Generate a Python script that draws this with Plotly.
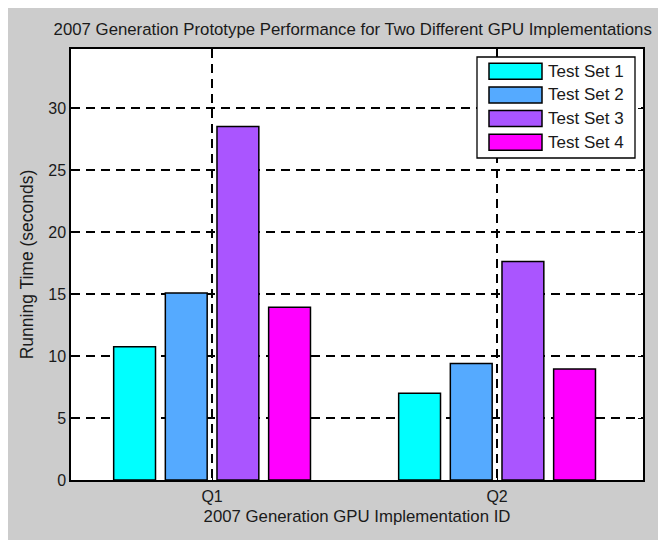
import plotly.graph_objects as go

# ---- data ----
categories = ["Q1", "Q2"]
cat_pos = [1, 2]
series_names = ["Test Set 1", "Test Set 2", "Test Set 3", "Test Set 4"]
set1 = [10.75, 7.0]
set2 = [15.1, 9.4]
set3 = [28.55, 17.65]
set4 = [13.95, 8.97]
series_values = [set1, set2, set3, set4]
colors = ["#00ffff", "#55aaff", "#aa55ff", "#ff00ff"]
y_ticks = [0, 5, 10, 15, 20, 25, 30]

W, H = 666, 540
OFF = 8  # page offset of the figure (body margin)
ML, MT = 63, 41
PW, PH = 572, 431
MR, MB = W - ML - PW, H - MT - PH
FONT = "Liberation Sans, Arial, Helvetica, sans-serif"
TXT = "#1a1a1a"


def px2x(px):
    return (px - OFF - ML) / PW


def py2y(py):
    return (MT + PH - (py - OFF)) / PH


fig = go.Figure()
for name, vals, col in zip(series_names, series_values, colors):
    fig.add_trace(go.Bar(
        x=cat_pos, y=vals, name=name,
        marker=dict(color=col, line=dict(color="black", width=1.5)),
        showlegend=False,
    ))

grid_style = dict(showgrid=True, gridcolor="black", gridwidth=1.6,
                  griddash="9px,6px")

fig.update_layout(
    width=W, height=H, autosize=False,
    margin=dict(l=ML, r=MR, t=MT, b=MB),
    paper_bgcolor="#cccccc", plot_bgcolor="white",
    barmode="group", bargap=0.275, bargroupgap=0.19,
    font=dict(family=FONT, size=16, color=TXT),
    title=dict(text="2007 Generation Prototype Performance for Two Different GPU Implementations",
               x=(352.7 - OFF) / W, xanchor="center", y=1 - (29 - OFF) / H, yanchor="middle",
               xref="container", yref="container",
               font=dict(family=FONT, size=16.8, color=TXT)),
    xaxis=dict(range=[0.505, 2.512], tickmode="array", tickvals=cat_pos,
               ticktext=categories, ticks="inside", ticklen=5, tickcolor="black",
               tickfont=dict(size=16), ticklabelstandoff=1,
               showline=True, linecolor="black", linewidth=1.5, mirror="ticks",
               zeroline=False, automargin=False,
               title=dict(text="2007 Generation GPU Implementation ID", standoff=6,
                          font=dict(size=16.8)),
               **grid_style),
    yaxis=dict(range=[0, 34.8], tickmode="array", tickvals=y_ticks,
               ticks="inside", ticklen=5, tickcolor="black",
               tickfont=dict(size=16),
               showline=True, linecolor="black", linewidth=1.5, mirror="ticks",
               zeroline=False, automargin=False,
               title=dict(text="Running Time (seconds)", standoff=10,
                          font=dict(size=17.5)),
               **grid_style),
)

# legend box (MATLAB style, wide swatches)
fig.add_shape(type="rect", xref="paper", yref="paper",
              x0=px2x(477), x1=px2x(635), y0=py2y(158), y1=py2y(57),
              fillcolor="white", line=dict(color="black", width=1.3))
row_centers = [71.3, 95.0, 118.5, 142.2]
for name, col, yc in zip(series_names, colors, row_centers):
    fig.add_shape(type="rect", xref="paper", yref="paper",
                  x0=px2x(489), x1=px2x(542), y0=py2y(yc + 8), y1=py2y(yc - 8),
                  fillcolor=col, line=dict(color="black", width=1.5))
    fig.add_annotation(x=px2x(546), y=py2y(yc), xref="paper", yref="paper",
                       text=name, showarrow=False, xanchor="left", yanchor="middle",
                       font=dict(family=FONT, size=17, color=TXT))

fig.write_html("out.html")
